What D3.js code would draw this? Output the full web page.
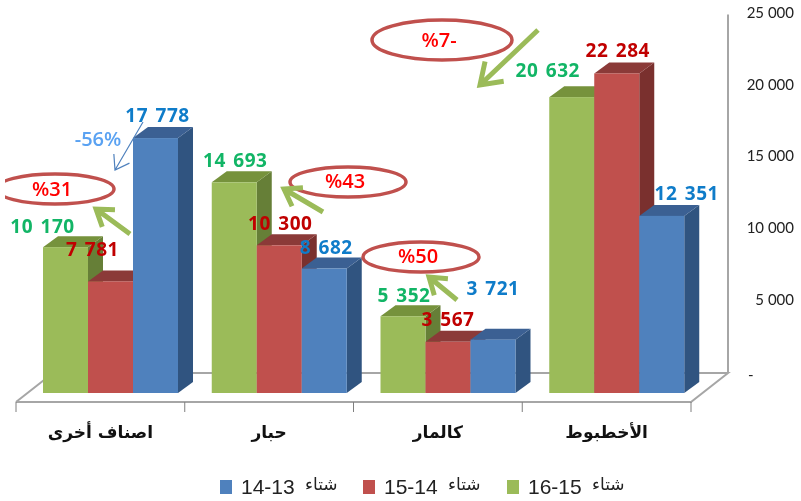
<!DOCTYPE html>
<html>
<head>
<meta charset="utf-8">
<script src="https://cdn.jsdelivr.net/npm/d3@7"></script>
<style>
    html, body { margin: 0; padding: 0; background: #fff; }
    svg { display: block; filter: blur(0.35px); }
</style>
</head>
<body>
<div id="chart"></div>
<script>
// values
let categories = ["اصناف أخرى", "حبار", "كالمار", "الأخطبوط"];
let seriesNames = ["s1516", "s1415", "s1314"];
let s1516 = [10170, 14693, 5352, 20632];
let s1415 = [7781, 10300, 3567, 22284];
let s1314 = [17778, 8682, 3721, 12351];
let yTicks = [0, 5000, 10000, 15000, 20000, 25000];
let legendYears = ["14-13", "15-14", "16-15"];
let legendWord = "شتاء";
let notes = ["%31", "%43", "%50", "%7-"];

let values = { s1516: s1516, s1415: s1415, s1314: s1314 };
let front = { s1516: "#9bbb59", s1415: "#c0504d", s1314: "#4f81bd" };
let top3d = { s1516: "#76923c", s1415: "#8b3a38", s1314: "#3b6093" };
let side3d = { s1516: "#667f37", s1415: "#7a302e", s1314: "#305480" };
let labelColor = { s1516: "#12b566", s1415: "#c00000", s1314: "#0f7cc9" };

// label shift from the top centre of its bar, the original has them hand placed
let labelNudge = {
    s1516: [[-23, -14], [1, -15], [1, -14], [-24, -20]],
    s1415: [[-18, -25], [1, -15], [0, -16], [1, -16]],
    s1314: [[2, -16], [2, -15], [0, -45], [25, -16]]
};

let width = 801, height = 501;
let depthX = 15, depthY = 11;
let wallX = 37, wallY = 29;
let floorLeft = 16, floorRight = 691, floorFront = 402, wallBase = 373;

let svg = d3.select("#chart").append("svg")
    .attr("width", width)
    .attr("height", height);

let x = d3.scaleBand().domain(categories).range([floorLeft, floorRight]);
let xInner = d3.scaleBand().domain(seriesNames).range([27, 162]);
let y = d3.scaleLinear().domain([0, 25000]).range([393, 34.5]);
let wallOffset = 393 - wallBase;

// floor and back wall
let grid = svg.append("g").attr("stroke", "#a6a6a6").attr("stroke-width", 2).attr("fill", "none");
grid.append("path").attr("d", d3.line()([
    [floorLeft, floorFront],
    [floorLeft + wallX, wallBase],
    [floorRight + wallX, wallBase],
    [floorRight, floorFront],
    [floorLeft, floorFront]
]));
grid.append("line")
    .attr("x1", floorRight + wallX).attr("x2", floorRight + wallX)
    .attr("y1", wallBase).attr("y2", y(25000) - wallOffset);

// x ticks
svg.append("g").selectAll("line")
    .data(d3.range(categories.length + 1))
    .enter().append("line")
    .attr("x1", function (d) { return floorLeft + d * x.step(); })
    .attr("x2", function (d) { return floorLeft + d * x.step(); })
    .attr("y1", floorFront)
    .attr("y2", floorFront + 10)
    .attr("stroke", "#7f7f7f");

// bars
categories.forEach(function (cat, c) {
    seriesNames.forEach(function (s) {
        let x0 = x(cat) + xInner(s),
            x1 = x0 + xInner.bandwidth(),
            yTop = y(values[s][c]),
            yBase = y(0);
        let g = svg.append("g").attr("class", "bar");
        g.append("polygon")
            .attr("points", [[x1, yTop], [x1 + depthX, yTop - depthY], [x1 + depthX, yBase - depthY], [x1, yBase]].join(" "))
            .attr("fill", side3d[s]);
        g.append("polygon")
            .attr("points", [[x0, yTop], [x1, yTop], [x1 + depthX, yTop - depthY], [x0 + depthX, yTop - depthY]].join(" "))
            .attr("fill", top3d[s]);
        g.append("rect")
            .attr("x", x0).attr("y", yTop)
            .attr("width", x1 - x0).attr("height", yBase - yTop)
            .attr("fill", front[s]);
    });
});

// y axis, sits on the back wall
let yAxis = d3.axisRight(d3.scaleLinear().domain(y.domain()).range([y.range()[0] - wallOffset, y.range()[1] - wallOffset]))
    .tickValues(yTicks)
    .tickSize(0)
    .tickFormat(function (d) { return d === 0 ? "-" : d3.format(",")(d).replace(",", " "); });
let axisG = svg.append("g")
    .attr("transform", "translate(794,-2)")
    .call(yAxis);
axisG.select(".domain").remove();
axisG.selectAll("text")
    .attr("x", function (d) { return d === 0 ? -46 : 0; })
    .attr("y", function (d) { return d === 0 ? 4 : 0; })
    .attr("text-anchor", function (d) { return d === 0 ? "start" : "end"; })
    .attr("font-family", "Lato")
    .attr("font-size", 15)
    .attr("fill", "#222");

// category names
svg.append("g").selectAll("text")
    .data(categories)
    .enter().append("text")
    .attr("x", function (d) { return x(d) + x.bandwidth() / 2; })
    .attr("y", 438)
    .attr("text-anchor", "middle")
    .attr("direction", "rtl")
    .attr("font-family", "DejaVu Sans")
    .attr("font-weight", "bold")
    .attr("font-size", 17)
    .attr("fill", "#111")
    .text(function (d) { return d; });

// value labels
seriesNames.forEach(function (s) {
    svg.append("g").selectAll("text")
        .data(values[s])
        .enter().append("text")
        .attr("x", function (d, i) { return x(categories[i]) + xInner(s) + xInner.bandwidth() / 2 + labelNudge[s][i][0]; })
        .attr("y", function (d, i) { return y(d) + labelNudge[s][i][1]; })
        .attr("text-anchor", "middle")
        .attr("font-family", "Open Sans")
        .attr("font-weight", "bold")
        .attr("font-size", 19)
        .attr("letter-spacing", 0.5)
        .attr("word-spacing", 2)
        .attr("fill", labelColor[s])
        .text(function (d) { return d3.format(",")(d).replace(",", " "); });
});

// hand drawn callouts
svg.append("defs").append("clipPath").attr("id", "page")
    .append("rect").attr("x", 5).attr("y", 0).attr("width", width).attr("height", height);

let ovals = [[55, 189, 59, 15], [348, 182, 58, 15], [421, 257, 58, 15], [442, 40, 70, 20]];
let noteBase = [[52, 196], [345, 188], [418, 263], [439, 47]];
let oval = svg.append("g").attr("clip-path", "url(#page)");
ovals.forEach(function (o, i) {
    oval.append("ellipse")
        .attr("cx", o[0]).attr("cy", o[1]).attr("rx", o[2]).attr("ry", o[3])
        .attr("fill", "none").attr("stroke", "#c0504d").attr("stroke-width", 3.5);
    oval.append("text")
        .attr("x", noteBase[i][0]).attr("y", noteBase[i][1])
        .attr("text-anchor", "middle")
        .attr("direction", "ltr")
        .attr("font-family", "Open Sans")
        .attr("font-weight", "600")
        .attr("font-size", 20)
        .attr("fill", "#ff0000")
        .text(notes[i]);
});

function arrow(from, to, color, w, head) {
    let a = Math.atan2(to[1] - from[1], to[0] - from[0]);
    let wing = function (t) { return [to[0] - head * Math.cos(a + t), to[1] - head * Math.sin(a + t)]; };
    svg.append("path")
        .attr("d", d3.line()([from, to]) + d3.line()([wing(0.6), to, wing(-0.6)]))
        .attr("fill", "none")
        .attr("stroke", color)
        .attr("stroke-width", w)
        .attr("stroke-linejoin", "miter");
}
arrow([130, 234], [96, 209], "#9bbb59", 5, 19);
arrow([323, 212], [284, 189], "#9bbb59", 5, 19);
arrow([457, 300], [429, 277], "#9bbb59", 5, 19);
arrow([538, 30], [480, 85], "#9bbb59", 5, 24);
arrow([143, 122], [115, 170], "#4f81bd", 1.2, 16);

svg.append("text")
    .attr("x", 98).attr("y", 146)
    .attr("text-anchor", "middle")
    .attr("font-family", "Open Sans")
    .attr("font-size", 20)
    .attr("font-weight", "600")
    .attr("fill", "#5aa2f2")
    .text("-56%");

// legend, blue first like the original
let legendOrder = ["s1314", "s1415", "s1516"];
let legendX = [220, 363, 507];
legendOrder.forEach(function (s, i) {
    let g = svg.append("g").attr("transform", "translate(" + legendX[i] + ",0)");
    g.append("rect").attr("x", 0).attr("y", 480).attr("width", 12).attr("height", 14).attr("fill", front[s]);
    g.append("text")
        .attr("x", 21).attr("y", 494)
        .attr("font-family", "Liberation Sans")
        .attr("font-size", 21)
        .attr("fill", "#222")
        .text(legendYears[i]);
    g.append("text")
        .attr("x", 85).attr("y", 490)
        .attr("font-family", "DejaVu Sans")
        .attr("font-size", 17)
        .attr("fill", "#222")
        .text(legendWord);
});
</script>
</body>
</html>
